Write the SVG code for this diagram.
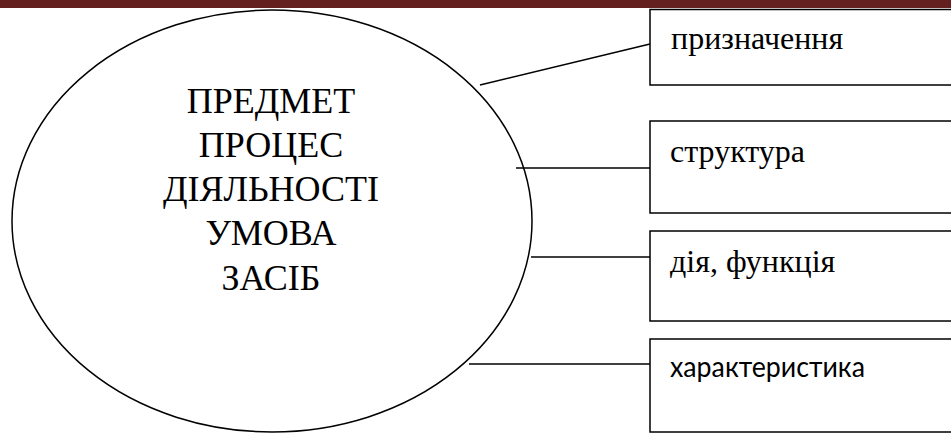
<svg xmlns="http://www.w3.org/2000/svg" width="951" height="434" viewBox="0 0 951 434">
<style>
.shape{fill:#fff;stroke:#000;stroke-width:1.5}
.conn line{stroke:#000;stroke-width:1.5}
.center{font-family:"Liberation Serif","Times New Roman",serif;font-size:36px;fill:#000;text-anchor:middle}
.lbl{font-family:"Liberation Serif","Times New Roman",serif;font-size:32px;fill:#000}
.lbl-sans{font-family:Lato,"Open Sans",sans-serif;font-size:29px;fill:#000}
</style>
<rect x="0" y="0" width="951" height="434" fill="#fff"/>
<rect x="0" y="0" width="951" height="8" fill="#63201f"/>
<g id="main">
<ellipse class="shape" cx="272" cy="221" rx="260" ry="211"/>
<text class="center" x="271" y="113">ПРЕДМЕТ</text>
<text class="center" x="271" y="157">ПРОЦЕС</text>
<text class="center" x="271" y="201">ДІЯЛЬНОСТІ</text>
<text class="center" x="271" y="245">УМОВА</text>
<text class="center" x="271" y="290">ЗАСІБ</text>
</g>
<g id="box1">
<rect class="shape" x="650" y="9.5" width="305" height="75.5"/>
<text class="lbl" x="671" y="49">призначення</text>
</g>
<g id="box2">
<rect class="shape" x="650" y="121" width="305" height="92"/>
<text class="lbl" x="670" y="162">структура</text>
</g>
<g id="box3">
<rect class="shape" x="650" y="231" width="305" height="90"/>
<text class="lbl" x="670" y="272">дія, функція</text>
</g>
<g id="box4">
<rect class="shape" x="650" y="339" width="305" height="93"/>
<text class="lbl-sans" x="670" y="377" textLength="195" lengthAdjust="spacingAndGlyphs">характеристика</text>
</g>
<g id="connectors" class="conn">
<line x1="480" y1="85" x2="650" y2="44"/>
<line x1="516" y1="168" x2="650" y2="168"/>
<line x1="531" y1="257" x2="650" y2="257"/>
<line x1="469" y1="364" x2="650" y2="364"/>
</g>
</svg>
